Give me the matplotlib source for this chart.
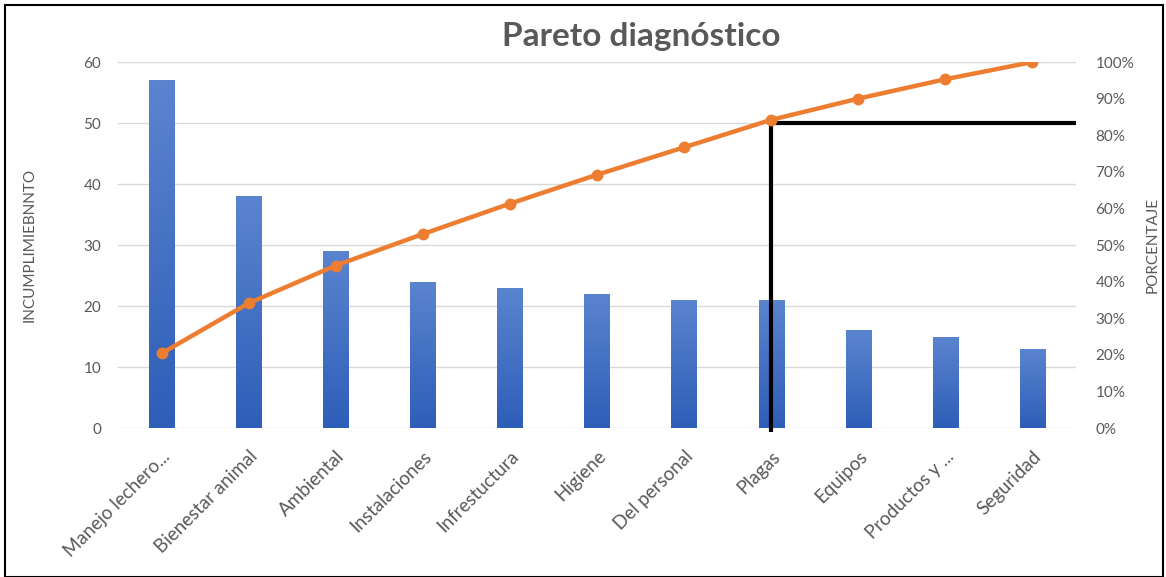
import numpy as np
import matplotlib.pyplot as plt
from matplotlib.patches import Rectangle
from matplotlib.colors import LinearSegmentedColormap
from matplotlib.ticker import FuncFormatter

plt.rcParams['font.family'] = ['Lato', 'DejaVu Sans']

categorias = ['Manejo lechero...', 'Bienestar animal', 'Ambiental', 'Instalaciones',
              'Infrestuctura', 'Higiene', 'Del personal', 'Plagas', 'Equipos',
              'Productos y ...', 'Seguridad']
incumplimiento = [57, 38, 29, 24, 23, 22, 21, 21, 16, 15, 13]
porcentaje = [20.4, 34.1, 44.4, 53.0, 61.3, 69.2, 76.7, 84.2, 90.0, 95.3, 100.0]

# corte 80/20 dibujado a mano en el original
corte_idx = 7
corte_y = 50

gris = '#595959'
naranja = '#ED7D31'

fig = plt.figure(figsize=(11.66, 5.77), dpi=100)
ax = fig.add_axes([0.1012, 0.2582, 0.8216, 0.6343])
ax2 = ax.twinx()

x = np.arange(len(categorias))
bars = ax.bar(x, incumplimiento, width=0.29, color='#4472C4', zorder=2)

# degradado vertical en cada barra
grad = np.linspace(0, 1, 100).reshape(-1, 1)
cmap = LinearSegmentedColormap.from_list('azul', ['#2E5EB8', '#5B84CF'])
for b in bars:
    x0, w, h = b.get_x(), b.get_width(), b.get_height()
    im = ax.imshow(grad, extent=[x0, x0 + w, 0, h], origin='lower', cmap=cmap,
                   aspect='auto', zorder=2)
    im.set_clip_path(b)
    b.set_alpha(0)

ax.set_xlim(-0.5, len(categorias) - 0.5)
ax.set_ylim(0, 60)
ax.set_yticks(range(0, 61, 10))
ax.yaxis.grid(True, color='#D9D9D9', lw=1, zorder=0)
ax.set_axisbelow(True)
ax.set_xticks(x)
ax.set_xticklabels(categorias, rotation=45, ha='right', rotation_mode='anchor',
                   fontsize=13.5, color=gris)
ax.tick_params(axis='x', length=0, pad=14)
ax.tick_params(axis='y', length=0, labelsize=11, labelcolor=gris, pad=12)
for s in ax.spines.values():
    s.set_visible(False)
ax.set_ylabel('INCUMPLIMIEBNNTO', fontsize=11, color=gris, labelpad=34)

ax2.plot(x, porcentaje, color=naranja, lw=3.2, marker='o', markersize=7.5, zorder=4)
ax2.set_ylim(0, 100)
ax2.set_yticks(range(0, 101, 10))
ax2.yaxis.set_major_formatter(FuncFormatter(lambda v, p: f'{v:.0f}%'))
ax2.tick_params(axis='y', length=0, labelsize=11, labelcolor=gris, pad=14)
for s in ax2.spines.values():
    s.set_visible(False)
ax2.set_ylabel('PORCENTAJE', fontsize=11, color=gris, labelpad=8)

ax.plot([corte_idx, corte_idx], [-0.65, corte_y + 0.5], color='black', lw=3,
        zorder=5, clip_on=False, solid_capstyle='butt')
ax.plot([corte_idx, len(categorias) - 0.5], [corte_y, corte_y], color='black', lw=3,
        zorder=5, clip_on=False, solid_capstyle='butt')

fig.text(0.55, 0.937, 'Pareto diagnóstico', ha='center', va='center',
         fontsize=24, fontweight='bold', color=gris)

fig.patches.append(Rectangle((0.004, 0.0), 0.993, 0.991, transform=fig.transFigure,
                             fill=False, edgecolor='black', lw=1.5))

fig.savefig('out.png', dpi=100)
